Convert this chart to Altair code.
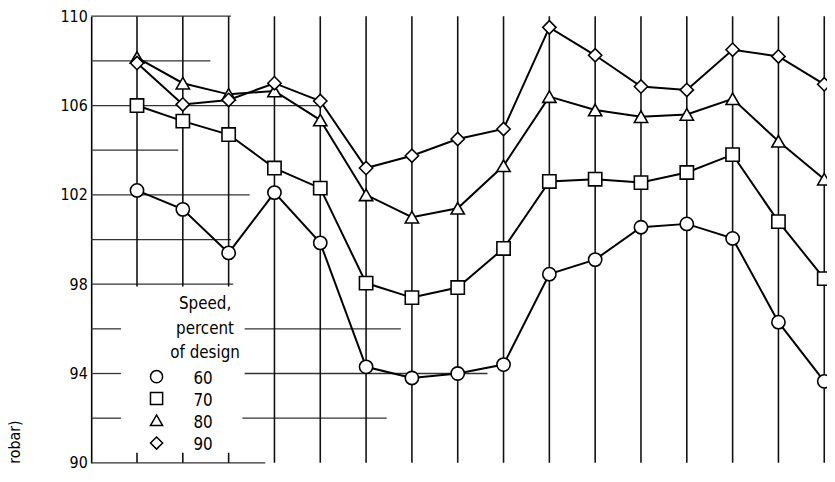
import altair as alt
import pandas as pd

# ---- data ----
station = list(range(1, 17))
speed_60 = [102.2, 101.35, 99.4, 102.1, 99.85, 94.3, 93.8, 94.0, 94.4, 98.45, 99.1, 100.55, 100.7, 100.05, 96.3, 93.65]
speed_70 = [106.0, 105.3, 104.7, 103.2, 102.3, 98.05, 97.4, 97.85, 99.6, 102.6, 102.7, 102.55, 103.0, 103.8, 100.8, 98.25]
speed_80 = [108.15, 107.0, 106.5, 106.65, 105.35, 102.0, 101.0, 101.4, 103.3, 106.4, 105.8, 105.5, 105.6, 106.3, 104.4, 102.7]
speed_90 = [107.9, 106.05, 106.25, 107.0, 106.2, 103.2, 103.75, 104.5, 104.95, 109.5, 108.25, 106.85, 106.7, 108.5, 108.2, 106.95]
speed_names = ["60", "70", "80", "90"]
speed_shapes = ["circle", "square", "triangle-up", "diamond"]
y_ticks = [90, 94, 98, 102, 106, 110]
legend_title_lines = "Speed,\npercent\nof design"
y_title = "robar)"

# partial graph-paper lines (data units): horizontal (y, from, to)
h_y = [110, 108, 106, 104, 102, 100, 98, 96, 96, 94, 94, 92, 92, 90]
h_from = [0, 0, 0, 0, 0, 0, 0, 0, 3.35, 0, 3.35, 0, 3.3, 0]
h_to = [3.05, 2.6, 5.0, 1.9, 3.46, 3.05, 3.1, 0.65, 6.76, 0.65, 8.65, 0.65, 6.45, 3.8]
# vertical (x, from, to)
v_x = [1, 2, 3, 1, 2, 3] + list(range(4, 17))
v_from = [97.9, 97.9, 97.9, 90, 90, 90] + [90] * 13
v_to = [110, 110, 110, 90.45, 90.45, 90.45] + [110] * 13

FONT = "DejaVu Sans Condensed"

rows = []
for name, vals in zip(speed_names, [speed_60, speed_70, speed_80, speed_90]):
    for s, v in zip(station, vals):
        rows.append({"station": s, "value": v, "speed": name})
df = pd.DataFrame(rows)

hdf = pd.DataFrame({"y": h_y, "x0": h_from, "x1": h_to})
vdf = pd.DataFrame({"x": v_x, "y0": v_from, "y1": v_to})

xs = alt.Scale(domain=[0, 16.06], nice=False, zero=False)
ys = alt.Scale(domain=[90, 110], nice=False, zero=False)
Y_AXIS = alt.Axis(values=y_ticks, title=None, grid=False, ticks=False,
                  domain=True, domainColor="black", domainWidth=1.6,
                  labelFont=FONT, labelFontSize=16, labelColor="black",
                  labelPadding=4)

hlines = alt.Chart(hdf).mark_rule(color="#333333", strokeWidth=1.3).encode(
    x=alt.X("x0:Q", scale=xs, axis=None),
    x2="x1:Q",
    y=alt.Y("y:Q", scale=ys, axis=Y_AXIS),
)

vlines = alt.Chart(vdf).mark_rule(color="#111111", strokeWidth=1.6).encode(
    x=alt.X("x:Q", scale=xs, axis=None),
    y=alt.Y("y0:Q", scale=ys, axis=Y_AXIS),
    y2="y1:Q",
)

lines = alt.Chart(df).mark_line(color="black", strokeWidth=2).encode(
    x=alt.X("station:Q", scale=xs, axis=None),
    y=alt.Y("value:Q", scale=ys, axis=Y_AXIS),
    detail="speed:N",
)

points = alt.Chart(df).mark_point(filled=True, fill="white", fillOpacity=1,
                                  stroke="black", strokeWidth=1.6, size=180, opacity=1).encode(
    x=alt.X("station:Q", scale=xs, axis=None),
    y=alt.Y("value:Q", scale=ys, axis=Y_AXIS),
    shape=alt.Shape("speed:N", scale=alt.Scale(domain=speed_names, range=speed_shapes),
                    legend=None),
)

# hand-drawn key (as in the original figure)
key_y = [364, 386, 408, 431]
key_layers = []
for shp, ky in zip(speed_shapes, key_y):
    key_layers.append(
        alt.Chart(pd.DataFrame({"k": [0]})).mark_point(
            filled=True, fill="white", stroke="black", strokeWidth=1.5, size=150, opacity=1
        ).encode(x=alt.value(66), y=alt.value(ky), shape=alt.value(shp))
    )

key_labels = alt.Chart(pd.DataFrame({"t": ["\n".join(speed_names)]})).mark_text(
    font=FONT, fontSize=17, color="black", align="center", baseline="top",
    lineBreak="\n", lineHeight=22.3
).encode(x=alt.value(113), y=alt.value(358), text="t:N")

legend_title = alt.Chart(pd.DataFrame({"t": [legend_title_lines]})).mark_text(
    font=FONT, fontSize=17, color="black", align="center", baseline="top",
    lineBreak="\n", lineHeight=24.5
).encode(x=alt.value(115), y=alt.value(283), text="t:N")

ytitle = alt.Chart(pd.DataFrame({"t": [y_title]})).mark_text(
    font=FONT, fontSize=16, color="black", angle=270, align="left", baseline="middle"
).encode(x=alt.value(-77), y=alt.value(452), text="t:N")

chart = alt.layer(hlines, vlines, lines, points, *key_layers, key_labels, legend_title, ytitle).properties(
    width=743, height=451,
    autosize=alt.AutoSizeParams(type="none"),
    padding={"left": 84, "top": 6, "right": 0, "bottom": 10},
    background="white",
).configure_view(stroke=None)

chart.save("out.html", embed_options={"renderer": "svg", "actions": False})
